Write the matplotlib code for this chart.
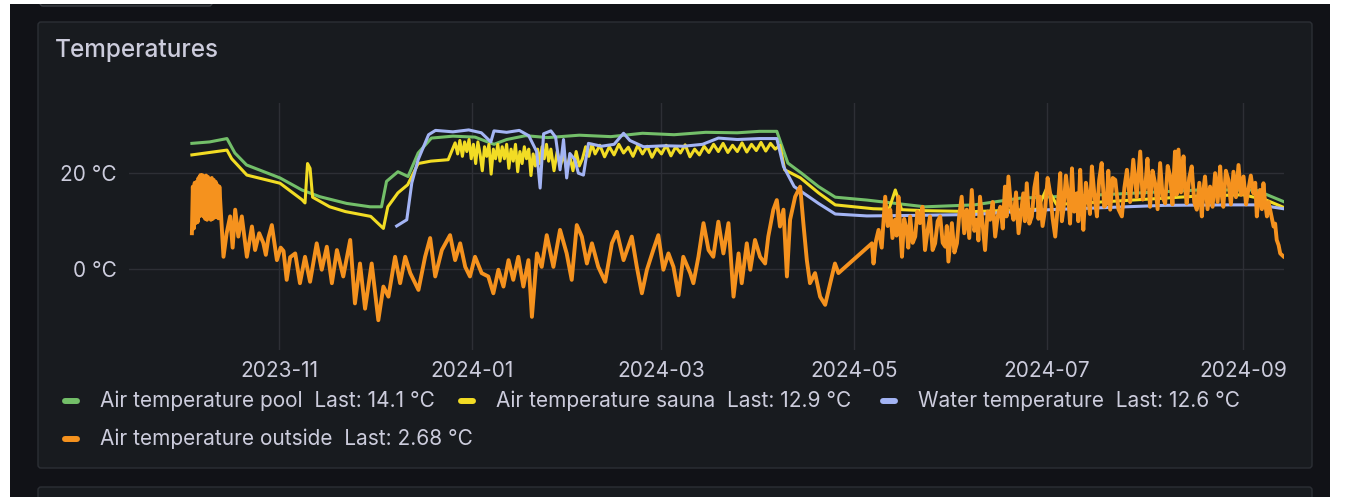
#!/usr/bin/env python

""" Grafana style "Temperatures" panel, redrawn with matplotlib
"""

import numpy as np
import pandas as pd
import matplotlib
matplotlib.use("Agg")
import matplotlib.pyplot as plt
import matplotlib.dates as mdates
from matplotlib.patches import FancyBboxPatch, Rectangle
from matplotlib.lines import Line2D

# all series are given as days since t0 and a temperature in degC
t0 = pd.Timestamp("2023-11-01")

pool_days = [-27.6, -22, -16.5, -14, -10.3, 0.3, 7.2, 12.9, 21.4, 28.8,
             32.4, 34, 37.6, 40.8, 44, 48.2, 55, 62, 68, 72, 78, 85, 95,
             105, 115, 125, 135, 145, 152, 157.5, 161, 165.3, 170.7, 176,
             186, 204.4, 220, 234.5, 260, 291, 309, 317.8]
pool_temp = [26.2, 26.5, 27.2, 24.2, 21.7, 19.0, 16.5, 15.1, 13.7, 13.0,
             13.0, 18.3, 20.3, 19.3, 24.2, 27.3, 27.7, 27.5, 26.0, 27.0, 27.8,
             27.4, 27.9, 27.6, 28.3, 28.0, 28.5, 28.4, 28.7, 28.7, 22.1, 20.0,
             17.2, 15.0, 14.4, 13.0, 13.4, 14.8, 15.5, 16.5, 16.5, 14.1]

sauna_days = [-27.6, -16.5, -15, -10.2, 0.3, 7.2, 8.2, 9.0, 9.8, 10.6,
              16, 21, 29, 33, 34.4, 37.6, 40.7, 44, 48, 53.5,
              55.7, 56.5, 57.2, 58.0, 58.7, 59.4, 60.1, 60.8, 61.5, 62.2,
              62.9, 63.6, 64.3, 65.0, 65.7, 66.4, 67.1, 67.8, 68.5, 69.2,
              69.9, 70.6, 71.3, 72.0, 72.7, 73.4, 74.1, 74.8, 75.5, 76.2,
              76.9, 77.6, 78.3, 79.0, 79.7, 80.4, 81.1, 81.8, 82.5, 83.2,
              83.9, 84.6, 85.3, 86.0, 87, 88, 89, 90, 91, 92,
              93, 94, 95, 96, 97, 98, 99, 100.0, 101.5, 103.0,
              104.5, 106.0, 107.5, 109.0, 110.5, 112.0, 113.5, 115.0, 116.5, 118.0,
              119.5, 121.0, 122.5, 124.0, 125.5, 127.0, 128.5, 130.0, 131.5, 133.0,
              134.5, 136.0, 137.5, 139.0, 140.5, 142.0, 143.5, 145.0, 146.5, 148.0,
              149.5, 151.0, 152.5, 154.0, 155.5, 157.0, 158.5,
              160, 165, 170.7, 176, 188, 193, 195, 197, 204, 220, 240, 243,
              246, 260, 290, 305, 312, 317.8]
sauna_temp = [23.8, 24.8, 23.0, 19.6, 17.9, 14.5, 13.8, 22.0, 21.0, 15.0,
              13.0, 12.0, 11.0, 8.5, 13.0, 15.9, 17.6, 22.0, 22.5, 22.8,
              26.3, 24.0, 26.8, 23.5, 26.5, 24.5, 27.0, 23.0, 26.0, 22.0,
              26.5, 24.0, 20.5, 25.5, 23.5, 26.0, 19.8, 25.0, 23.0, 26.0,
              22.5, 25.5, 23.0, 26.0, 21.0, 25.0, 22.5, 26.0, 20.3, 24.5,
              22.0, 25.5, 23.0, 25.0, 19.5, 24.0, 21.5, 25.0, 22.0, 25.5,
              23.0, 26.0, 22.5, 25.0, 20.5, 24.5, 21.5, 24.0, 20.8, 23.5,
              20.5, 24.5, 21.5, 23.0, 25.5, 23.5, 26.0, 24.0, 25.8, 23.4,
              25.5, 23.8, 26.0, 24.2, 25.4, 23.5, 25.8, 24.0, 25.6, 23.3,
              25.2, 24.0, 25.8, 23.6, 25.5, 24.2, 25.9, 23.4, 25.0, 23.8,
              25.6, 24.3, 26.0, 24.5, 26.2, 24.3, 25.8, 24.5, 26.3, 24.4,
              26.0, 24.7, 26.4, 24.6, 26.2, 25.0, 25.8,
              20.7, 19.0, 15.9, 13.4, 12.6, 12.5, 16.5, 12.4, 12.2, 12.0, 12.5, 17.0,
              13.5, 14.0, 15.2, 15.5, 14.5, 12.9]

water_days = [37.2, 40.4, 42, 44, 47.3, 49.5, 55, 60, 64, 67, 68, 72, 76,
              79, 81.5, 82.6, 83.7, 86, 87.5, 88.9, 90, 91, 92, 93.6, 94.7,
              96.3, 97.9, 102, 106, 109, 111, 115.3, 122, 128, 134, 139, 145,
              152, 157.5, 159.6, 163, 170.7, 176, 186, 200, 220, 240, 260,
              280, 300, 310, 317.8]
water_temp = [9.0, 10.3, 18.0, 22.8, 28.0, 28.9, 28.6, 29.0, 28.4, 26.5,
              28.8, 28.5, 28.9, 27.8, 24.5, 16.9, 28.2, 28.8, 27.5, 20.7, 27.0,
              19.0, 24.1, 22.8, 20.0, 19.6, 26.2, 25.6, 26.0, 28.3, 26.8, 25.5,
              25.7, 25.6, 26.0, 27.3, 27.0, 27.2, 27.2, 21.4, 17.2, 13.7, 11.5,
              11.1, 11.2, 11.4, 12.3, 12.8, 13.3, 13.4, 13.4, 12.6]

outside_days = [
    # autumn to spring
    -27.6, -27.3, -27.0, -26.7, -26.4, -26.1, -25.8, -25.5, -25.2, -24.9,
    -24.6, -24.3, -24.0, -23.7, -23.4, -23.1, -22.8, -22.5, -22.2, -21.9,
    -21.6, -21.3, -21.0, -20.7, -20.4, -20.1, -19.8, -19.5, -19.2, -18.9,
    -17.6, -16.6, -15.5, -14.7, -13.9, -12.9, -11.8, -10.2,
    -8.6, -7.6, -6.3, -5.0, -4.2, -3.4, -2.3, -0.7, 0.5, 1.4,
    2.4, 3.5, 5.1, 6.6, 8.2, 9.8, 11.9, 13.5, 15.1, 16.7,
    18.3, 20.3, 22.5, 24.0, 25.6, 27.2, 29.3, 31.4, 33.0, 34.6,
    36.7, 38.3, 39.9, 41.5, 44.1, 46.2, 47.8, 49.4, 51.5, 54.1,
    55.7, 57.3, 58.9, 60.4, 62.0, 64.1, 66.2, 67.8, 69.4, 71.0,
    72.6, 74.1, 75.7, 77.3, 78.9, 80.0, 81.6, 83.1, 84.7, 86.8,
    88.9, 91.0, 92.6, 94.2, 95.8, 97.4, 99.0, 101.0, 103.2, 105.3,
    106.9, 109.0, 111.6, 113.2, 114.8, 116.4, 118.4, 120.0, 121.6, 123.2,
    124.8, 126.4, 127.9, 130.1, 131.1, 132.7, 134.3, 135.9, 137.4, 139.0,
    140.6, 142.2, 143.8, 145.4, 146.4, 148.0, 149.1, 150.6, 152.2, 153.8,
    154.8, 156.4, 157.5, 158.5, 159.6, 160.7, 161.7, 163.3, 164.9, 165.9,
    167.0, 168.0, 169.6, 171.2, 172.8, 174.4, 175.9, 177.0, 187.6,
    # summer (after the gap)
    188.1, 188.9, 189.7, 190.7, 191.8, 192.6, 193.4, 194.1, 194.9, 195.4,
    196.0, 196.5, 197.1, 197.8, 198.6, 199.1, 199.7, 200.5, 201.3, 202.0,
    202.8, 203.6, 204.4, 205.2, 206.0, 206.8, 207.6, 208.4, 209.2, 210.0,
    210.8, 211.3, 211.8, 212.4, 212.9, 213.7, 214.5, 215.2, 216.0, 216.8,
    217.6, 218.4, 219.2, 220.0, 220.8, 221.3, 221.8, 222.6, 223.4, 224.2,
    225.0, 225.8, 226.6, 227.4, 228.2, 229.0, 229.7, 230.2, 230.8, 231.6,
    232.4, 233.2, 234.0, 234.8, 235.5, 236.0, 236.6, 237.4, 238.2, 239.0,
    239.8, 240.3, 240.8, 241.6, 242.4, 243.2, 244.0, 244.8, 245.6, 246.4,
    247.2, 247.7, 248.2, 249.0, 249.8, 250.3, 250.9, 251.6, 252.4, 252.9,
    253.5, 254.0, 254.5, 255.3, 256.1, 256.6, 257.2, 258.0, 258.8, 259.5,
    260.3, 261.1, 261.9, 262.4, 263.0, 263.8, 264.6, 265.6, 266.7, 267.5,
    268.3, 269.3, 270.3, 271.4, 272.5, 273.3, 274.1, 274.8, 275.6, 276.4,
    277.2, 278.0, 278.8, 279.6, 280.4, 281.2, 282.0, 282.7, 283.5, 284.0,
    284.6, 285.4, 286.2, 286.7, 287.2, 288.0, 288.8, 289.6, 290.4, 291.2,
    292.0, 292.5, 293.0, 293.8, 294.6, 295.4, 296.2, 297.0, 297.8, 298.3,
    298.8, 299.6, 300.4, 301.2, 302.0, 302.8, 303.6, 304.4, 305.2, 306.0,
    306.7, 307.5, 308.3, 308.9, 309.4, 309.9, 310.4, 311.0, 311.5, 312.0,
    312.6, 313.1, 313.6, 314.2, 314.7, 315.2, 315.7, 316.3, 316.8, 317.8]
outside_temp = [
    7.5, 17.2, 8.5, 18.0, 9.6, 18.2, 9.8, 19.0, 11.0, 19.6,
    11.5, 19.6, 11.0, 19.3, 10.5, 19.5, 10.3, 19.2, 10.8, 18.8,
    10.3, 19.0, 10.5, 18.6, 10.8, 18.2, 11.0, 17.5, 10.6, 17.2,
    2.6, 7.5, 11.0, 4.5, 12.4, 6.8, 11.0, 2.6,
    8.9, 4.0, 7.5, 5.5, 3.0, 6.5, 9.2, 1.9, 4.5, 3.8,
    -2.2, 2.5, 3.3, -2.9, 2.6, -2.6, 5.4, -0.1, 4.7, -2.9,
    4.0, -1.5, 6.1, -7.1, 1.2, -8.2, 1.2, -10.6, -3.6, -5.7,
    2.6, -2.9, 2.6, -0.8, -4.3, 2.6, 6.5, -1.5, 4.0, 7.1,
    1.9, 5.4, 0.5, -1.5, 2.6, -0.8, -1.5, -5.0, -0.1, -3.6,
    1.9, -2.2, 2.6, -3.6, 1.9, -9.9, 3.3, 0.5, 7.1, 0.5,
    8.2, 3.3, -2.2, 9.2, 6.8, 1.2, 5.4, 0.5, -2.6, 5.4,
    7.8, 1.9, 6.8, 0.5, -5.0, -0.1, 4.0, 7.1, -0.1, 3.3,
    0.5, -5.4, 2.6, -0.8, -2.9, 2.6, 9.6, 4.0, 2.6, 9.9,
    3.3, 9.6, -5.7, 3.3, -2.9, 5.4, -0.1, 6.1, 2.6, 1.2,
    6.8, 12.4, 14.4, 8.9, 12.4, -1.5, 10.3, 15.1, 17.2, 9.6,
    1.9, -2.9, -0.8, -5.7, -7.4, -2.9, 1.2, -0.8, 5.4,
    1.2, 6.0, 8.2, 4.5, 15.1, 9.0, 12.4, 6.5, 10.3, 7.0,
    15.1, 9.0, 2.6, 10.5, 8.2, 4.5, 11.0, 5.5, 6.8, 12.0,
    9.6, 13.0, 4.0, 8.0, 11.0, 4.0, 5.4, 10.0, 11.0, 5.5,
    4.7, 9.0, 1.6, 6.0, 9.6, 3.5, 5.4, 11.0, 15.1, 7.5,
    12.4, 6.5, 16.5, 8.0, 10.3, 6.0, 15.1, 9.5, 4.0, 12.0,
    10.3, 14.0, 6.8, 11.0, 13.0, 8.5, 17.2, 11.0, 19.3, 13.0,
    10.3, 16.0, 7.5, 12.0, 15.8, 10.0, 17.9, 9.5, 11.0, 17.0,
    20.0, 10.5, 15.1, 9.0, 12.4, 19.0, 15.8, 10.5, 6.8, 13.0,
    20.0, 10.0, 12.4, 19.5, 14.4, 9.5, 21.0, 12.0, 15.8, 10.0,
    20.7, 13.0, 8.2, 18.0, 14.4, 11.5, 21.4, 15.5, 11.0, 18.5,
    22.1, 13.0, 13.7, 20.5, 12.4, 19.0, 18.6, 12.5, 11.0, 17.0,
    20.7, 14.0, 22.8, 15.0, 24.5, 14.5, 17.2, 23.0, 13.0, 20.5,
    17.9, 12.5, 22.1, 15.0, 13.7, 21.5, 19.3, 13.5, 24.5, 15.5,
    24.9, 16.0, 23.5, 17.0, 13.7, 19.0, 21.4, 14.0, 12.4, 18.0,
    11.0, 16.5, 19.3, 12.5, 17.2, 13.0, 20.0, 14.0, 21.4, 15.5,
    13.0, 20.5, 18.6, 13.5, 20.3, 15.0, 21.7, 15.5, 19.3, 13.5,
    16.5, 19.5, 15.8, 18.0, 11.0, 14.5, 16.5, 12.5, 17.9, 14.0,
    11.0, 14.0, 12.4, 10.5, 8.9, 9.5, 6.1, 5.0, 3.3, 2.68]

series_names = ["Air temperature pool", "Air temperature sauna",
                "Water temperature", "Air temperature outside"]
series_colors = ["#73bf69", "#f2dc24", "#a3b4f4", "#f5921e"]
series_widths = [2.2, 2.2, 2.2, 2.8]
month_ticks = ["2023-11-01", "2024-01-01", "2024-03-01",
               "2024-05-01", "2024-07-01", "2024-09-01"]
temp_ticks = [0, 20]

W, H = 1345, 497
TEXT = "#ccccdc"
plt.rcParams["font.family"] = ["Inter", "DejaVu Sans"]

fig = plt.figure(figsize=(W / 100, H / 100), dpi=100)
fig.patch.set_facecolor("#111217")


def box(x0, y0, x1, y1, **kw):
    # pixel box (top-left origin) drawn in inch units so corners stay round
    p = FancyBboxPatch((x0 / 100, (H - y1) / 100), (x1 - x0) / 100,
                       (y1 - y0) / 100, boxstyle="round,pad=0,rounding_size=0.03",
                       transform=fig.dpi_scale_trans, zorder=-5, **kw)
    fig.add_artist(p)


box(38, 22, 1312, 468, facecolor="#181b1f", edgecolor="#2c2f35", lw=1)
box(38, 487, 1312, 540, facecolor="#181b1f", edgecolor="#2c2f35", lw=1)
box(40, -12, 212, 6, facecolor="#181b1f", edgecolor="#3b3e44", lw=1)
for x0, y0, x1, y1 in [(0, 0, 10, H), (0, 0, W, 4), (1330, 0, W, H)]:
    fig.add_artist(Rectangle((x0 / W, 1 - y1 / H), (x1 - x0) / W, (y1 - y0) / H,
                             transform=fig.transFigure, facecolor="white",
                             edgecolor="none", zorder=-4))

fig.text(55 / W, 1 - 50 / H, "Temperatures", fontsize=17.5, fontweight=500,
         color=TEXT, va="center", ha="left")

# plot area
ax = fig.add_axes([129 / W, 1 - 350 / H, (1284 - 129) / W, (350 - 103) / H])
ax.set_facecolor("none")
for s in ax.spines.values():
    s.set_visible(False)

all_days = [pool_days, sauna_days, water_days, outside_days]
all_temp = [pool_temp, sauna_temp, water_temp, outside_temp]
for days, temp, col, lw in zip(all_days, all_temp, series_colors, series_widths):
    t = t0 + pd.to_timedelta(np.array(days), unit="D")
    ax.plot(t, temp, color=col, lw=lw, solid_joinstyle="round")

ax.set_xlim(t0 + pd.Timedelta(days=-47.5), t0 + pd.Timedelta(days=318))
ax.set_ylim(-16.8, 34.6)
ax.set_xticks(pd.to_datetime(month_ticks))
ax.xaxis.set_major_formatter(mdates.DateFormatter("%Y-%m"))
ax.set_yticks(temp_ticks)
ax.set_yticklabels([f"{v} °C" for v in temp_ticks])
ax.grid(True, color="#2d2f35", lw=1)
ax.set_axisbelow(True)
ax.tick_params(length=0, colors=TEXT, labelsize=15)
ax.tick_params(axis="y", pad=9)
ax.tick_params(axis="x", pad=8)

# legend, laid out like Grafana's flowing legend
legend_pos = [(62, 401), (458, 401), (880, 401), (62, 439)]
for (x, y), name, col, temp in zip(legend_pos, series_names, series_colors, all_temp):
    fig.add_artist(Line2D([(x + 3) / W, (x + 15) / W], [1 - y / H, 1 - y / H],
                          transform=fig.transFigure, color=col, lw=4.3,
                          solid_capstyle="round"))
    fig.text((x + 38) / W, 1 - y / H, f"{name}  Last: {temp[-1]:g} °C",
             fontsize=15, color=TEXT, va="center", ha="left")

fig.savefig("out.png", dpi=100, facecolor=fig.get_facecolor())
